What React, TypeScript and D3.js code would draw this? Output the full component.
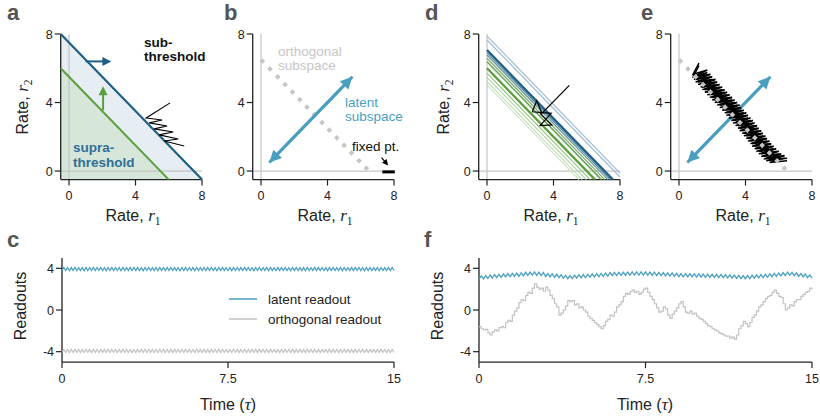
import React from "react";
import * as d3 from "d3";

// ---------- data ----------
const rateTicks = [0, 4, 8];
const readoutTicks = [-4, 0, 4];
const timeTicks = [0, 7.5, 15];
const timeTickLabels = ["0", "7.5", "15"];

// panel a
const subLine = [[-0.5, 8], [8, -0.5]];
const supraLine = [[-0.5, 6], [6, -0.5]];
const subArrow = [[1.0, 6.4], [2.55, 6.4]];
const supraArrow = [[2.05, 3.55], [2.05, 4.95]];
const aTraj = [[6.08, 3.98], [4.64, 3.1], [5.6, 2.98], [4.82, 2.81], [5.9, 2.63], [5.12, 2.46], [6.27, 2.28], [5.42, 2.11], [6.57, 1.87], [5.72, 1.75], [6.93, 1.46]];

// panels b / e
const orthoDots = [[0.08, 6.42], [0.54, 5.96], [1.0, 5.5], [1.45, 5.05], [1.89, 4.61], [2.33, 4.17], [2.77, 3.73], [3.21, 3.29], [3.67, 2.83], [4.11, 2.39], [4.56, 1.94], [5.0, 1.5], [5.44, 1.06], [5.9, 0.6], [6.34, 0.16]];
const latentAxis = [[0.5, 0.5], [5.5, 5.5]];
const fixedPoint = [[7.3, -0.05], [8.05, -0.05]];
const fixedPointArrow = [[7.25, 0.78], [7.65, 0.33]];

// panel d
const dIntercepts = [7.88, 7.65, 5.03, 5.22, 5.47, 5.71, 6.91, 6.77, 6.58, 6.38, 7.07, 6.0];
const dTraj = [[4.95, 5.0], [3.3, 3.37], [2.99, 4.11], [2.73, 3.46], [3.86, 3.37], [3.19, 2.65], [3.9, 2.69], [3.19, 3.37]];

// panel e
const eTraj = [
  [1.2, 6.3], [0.85, 5.65], [1.7, 5.9], [0.9, 5.5], [1.9, 5.65], [1.0, 5.35], [2.0, 5.5], [1.15, 5.2], [2.2, 5.35], [1.3, 5.05],
  [2.3, 5.2], [1.4, 4.9], [2.45, 5.05], [1.55, 4.75], [2.6, 4.9], [1.7, 4.6], [2.75, 4.75], [1.85, 4.45], [2.9, 4.6], [2.0, 4.3],
  [3.05, 4.45], [2.15, 4.15], [3.2, 4.3], [2.3, 4.0], [3.35, 4.15], [2.45, 3.85], [3.5, 4.0], [2.6, 3.7], [3.65, 3.85], [2.75, 3.55],
  [3.75, 3.7], [2.85, 3.4], [3.9, 3.55], [3.0, 3.25], [4.05, 3.4], [3.15, 3.1], [4.15, 3.25], [3.25, 2.95], [4.3, 3.1], [3.4, 2.8],
  [4.45, 2.95], [3.55, 2.65], [4.55, 2.8], [3.65, 2.5], [4.7, 2.65], [3.8, 2.35], [4.8, 2.5], [3.9, 2.2], [4.95, 2.35], [4.05, 2.05],
  [5.05, 2.2], [4.15, 1.9], [5.2, 2.05], [4.3, 1.75], [5.3, 1.9], [4.4, 1.6], [5.45, 1.75], [4.55, 1.45], [5.55, 1.6], [4.65, 1.3],
  [5.7, 1.45], [4.8, 1.15], [5.85, 1.3], [4.95, 1.0], [6.0, 1.15], [5.1, 0.85], [6.15, 1.0], [5.25, 0.75], [6.35, 0.9], [5.45, 0.65],
  [6.5, 0.75],
];

// panel c (sampled over 0..15)
const cLatent = [
  3.78, 4.08, 3.79, 4.07, 3.77, 4.08, 3.78, 4.09, 3.79, 4.07, 3.78, 4.08, 3.77, 4.08, 3.79, 4.07, 3.78, 4.09, 3.78, 4.08,
  3.78, 4.08, 3.79, 4.07, 3.77, 4.08, 3.78, 4.09, 3.79, 4.07, 3.78, 4.08, 3.77, 4.08, 3.79, 4.07, 3.78, 4.09, 3.78, 4.08,
  3.78, 4.08, 3.79, 4.07, 3.77, 4.08, 3.78, 4.09, 3.79, 4.07, 3.78, 4.08, 3.77, 4.08, 3.79, 4.07, 3.78, 4.09, 3.78, 4.08,
  3.78, 4.08, 3.79, 4.07, 3.77, 4.08, 3.78, 4.09, 3.79, 4.07, 3.78, 4.08, 3.77, 4.08, 3.79, 4.07, 3.78, 4.09, 3.78, 4.08,
  3.78, 4.08, 3.79, 4.07, 3.77, 4.08, 3.78, 4.09, 3.79, 4.07, 3.78, 4.08, 3.77, 4.08, 3.79, 4.07, 3.78, 4.09, 3.78, 4.08,
  3.78, 4.08, 3.79, 4.07, 3.77, 4.08, 3.78, 4.09, 3.79, 4.07, 3.78, 4.08, 3.77, 4.08, 3.79, 4.07, 3.78, 4.09, 3.78, 4.08,
  3.78, 4.08, 3.79, 4.07, 3.77, 4.08, 3.78, 4.09, 3.79, 4.07, 3.78, 4.08, 3.77, 4.08, 3.79, 4.07, 3.78, 4.09, 3.78, 4.08,
  3.78, 4.08, 3.79, 4.07, 3.77, 4.08, 3.78, 4.09, 3.79, 4.07, 3.78, 4.08, 3.77, 4.08, 3.79, 4.07, 3.78, 4.09, 3.78, 4.08,
  3.78, 4.08, 3.79, 4.07, 3.77, 4.08, 3.78, 4.09, 3.79, 4.07, 3.78, 4.08, 3.77, 4.08, 3.79, 4.07, 3.78, 4.09, 3.78, 4.08,
  3.79,
];
const cOrtho = [
  -4.08, -3.78, -4.07, -3.79, -4.08, -3.77, -4.09, -3.78, -4.07, -3.79, -4.08, -3.78, -4.08, -3.77, -4.07, -3.79, -4.09, -3.78, -4.08, -3.78,
  -4.08, -3.78, -4.07, -3.79, -4.08, -3.77, -4.09, -3.78, -4.07, -3.79, -4.08, -3.78, -4.08, -3.77, -4.07, -3.79, -4.09, -3.78, -4.08, -3.78,
  -4.08, -3.78, -4.07, -3.79, -4.08, -3.77, -4.09, -3.78, -4.07, -3.79, -4.08, -3.78, -4.08, -3.77, -4.07, -3.79, -4.09, -3.78, -4.08, -3.78,
  -4.08, -3.78, -4.07, -3.79, -4.08, -3.77, -4.09, -3.78, -4.07, -3.79, -4.08, -3.78, -4.08, -3.77, -4.07, -3.79, -4.09, -3.78, -4.08, -3.78,
  -4.08, -3.78, -4.07, -3.79, -4.08, -3.77, -4.09, -3.78, -4.07, -3.79, -4.08, -3.78, -4.08, -3.77, -4.07, -3.79, -4.09, -3.78, -4.08, -3.78,
  -4.08, -3.78, -4.07, -3.79, -4.08, -3.77, -4.09, -3.78, -4.07, -3.79, -4.08, -3.78, -4.08, -3.77, -4.07, -3.79, -4.09, -3.78, -4.08, -3.78,
  -4.08, -3.78, -4.07, -3.79, -4.08, -3.77, -4.09, -3.78, -4.07, -3.79, -4.08, -3.78, -4.08, -3.77, -4.07, -3.79, -4.09, -3.78, -4.08, -3.78,
  -4.08, -3.78, -4.07, -3.79, -4.08, -3.77, -4.09, -3.78, -4.07, -3.79, -4.08, -3.78, -4.08, -3.77, -4.07, -3.79, -4.09, -3.78, -4.08, -3.78,
  -4.08, -3.78, -4.07, -3.79, -4.08, -3.77, -4.09, -3.78, -4.07, -3.79, -4.08, -3.78, -4.08, -3.77, -4.07, -3.79, -4.09, -3.78, -4.08, -3.78,
  -4.08,
];

// panel f (sampled every 0.1 over 0..15)
const fLatent = [
  2.95, 3.27, 2.99, 3.31, 3.03, 3.35, 3.07, 3.39, 3.1, 3.42, 3.13,
  3.46, 3.17, 3.49, 3.2, 3.52, 3.22, 3.54, 3.24, 3.56, 3.28,
  3.62, 3.33, 3.64, 3.34, 3.65, 3.33, 3.63, 3.3, 3.6, 3.2,
  3.49, 3.18, 3.46, 3.14, 3.43, 3.1, 3.38, 3.06, 3.32, 3.0,
  3.31, 3.02, 3.34, 3.05, 3.37, 3.08, 3.4, 3.11, 3.43, 3.15,
  3.46, 3.17, 3.49, 3.2, 3.52, 3.23, 3.55, 3.26, 3.58, 3.3,
  3.61, 3.31, 3.62, 3.32, 3.63, 3.33, 3.64, 3.34, 3.65, 3.35, 3.65, 3.35, 3.65, 3.35, 3.65,
  3.34, 3.64, 3.33, 3.63, 3.31, 3.61, 3.29, 3.59, 3.27, 3.57, 3.25, 3.55, 3.22, 3.52, 3.2,
  3.5, 3.19, 3.49, 3.18, 3.48, 3.17, 3.47, 3.16, 3.46, 3.15,
  3.45, 3.14, 3.44, 3.13, 3.43, 3.12, 3.42, 3.11, 3.41, 3.1,
  3.39, 3.08, 3.37, 3.06, 3.35, 3.04, 3.33, 3.02, 3.31, 3.0,
  3.31, 3.02, 3.34, 3.05, 3.37, 3.08, 3.4, 3.11, 3.43, 3.15,
  3.47, 3.19, 3.51, 3.23, 3.55, 3.27, 3.59, 3.31, 3.63, 3.35,
  3.62, 3.29, 3.56, 3.23, 3.5, 3.17, 3.44, 3.11, 3.38, 3.05,
];
const fOrtho = [
  -1.6, -1.8, -1.9, -1.85, -2.2, -2.4, -2.1, -1.9, -2.0, -1.7,
  -1.6, -1.7, -1.2, -1.0, -1.1, -0.5, -0.1, 0.2, 0.7, 1.0,
  0.9, 1.4, 1.7, 1.6, 2.1, 2.5, 2.2, 2.0, 2.1, 1.8,
  2.2, 1.9, 1.4, 1.1, 0.6, 0.3, -0.5, -0.3, 0.0, 0.4,
  0.9, 0.8, 0.9, 0.5, 0.6, 0.2, 0.3, 0.0, -0.2, -0.6,
  -0.8, -1.0, -1.2, -1.4, -1.6, -1.8, -1.5, -1.1, -0.9, -0.5,
  -0.6, -0.2, 0.3, 0.5, 0.8, 1.3, 1.6, 1.5, 1.8, 1.9,
  1.7, 1.8, 1.5, 1.7, 2.0, 2.1, 1.7, 1.3, 1.0, 0.6,
  0.2, -0.2, -0.1, 0.3, 0.1, -0.5, -0.8, -0.4, -0.1, 0.2,
  0.6, 0.8, 0.3, -0.2, -0.3, -0.1, -0.4, -0.3, -0.6, -0.8,
  -0.9, -1.1, -1.3, -1.5, -1.6, -1.8, -1.9, -2.0, -2.2, -2.3,
  -2.4, -2.5, -2.5, -2.7, -2.6, -2.8, -2.4, -1.8, -1.5, -1.1,
  -1.3, -1.6, -1.2, -0.7, -0.5, -0.1, 0.3, 0.5, 0.8, 1.1,
  1.3, 1.4, 1.7, 1.9, 1.6, 1.3, 1.2, 0.6, 0.0, 0.2,
  0.5, 0.4, 0.8, 1.0, 1.0, 1.3, 1.5, 1.7, 1.8, 2.1,
  2.0,
];

// ---------- styles ----------
const FONT = "'Liberation Sans', Arial, Helvetica, sans-serif";
const MATH = "'Liberation Serif', 'DejaVu Serif', serif";
const INK = "#222";
const DARKBLUE = "#1f5f85";
const GREEN = "#5a9e3e";
const LATENT = "#4a9fc0";
const GREYLINE = "#c4c4c4";
const DOTS = "#c6c6c6";
const TICK_FS = 12.5;
const LABEL_FS = 16;
const NOTE_FS = 13.5;
const dColors = ["#9fbbd0", "#9fbbd0", "#cbe3c1", "#bddcb2", "#add2a0", "#93c384", "#4f86a6", "#6f9a8f", "#7fa980", "#6aa858", DARKBLUE, GREEN];
const dWidths = [1.2, 1.2, 1.1, 1.1, 1.1, 1.1, 1.3, 1.3, 1.3, 1.6, 2.3, 2.3];

type Pt = number[];
type Scale = d3.ScaleLinear<number, number>;

const rateY = d3.scaleLinear().domain([-0.5, 8]).range([179.6, 34]);
const readY = d3.scaleLinear().domain([-5, 5]).range([362.1, 257.9]);
const rateX = (x0: number) => d3.scaleLinear().domain([-0.5, 8]).range([x0 - 8.3, x0 + 133]);

function head(x: Scale, y: Scale, from: Pt, to: Pt, len: number, half: number) {
  const x1 = x(from[0]), y1 = y(from[1]), x2 = x(to[0]), y2 = y(to[1]);
  const a = Math.atan2(y2 - y1, x2 - x1);
  const bx = x2 - len * Math.cos(a), by = y2 - len * Math.sin(a);
  const px = -Math.sin(a) * half, py = Math.cos(a) * half;
  return `${x2},${y2} ${bx + px},${by + py} ${bx - px},${by - py}`;
}

function shaft(x: Scale, y: Scale, from: Pt, to: Pt, cut: number) {
  const x1 = x(from[0]), y1 = y(from[1]), x2 = x(to[0]), y2 = y(to[1]);
  const a = Math.atan2(y2 - y1, x2 - x1);
  return `M${x1},${y1}L${x2 - cut * Math.cos(a)},${y2 - cut * Math.sin(a)}`;
}

function Axes({ x, y, xTicks, xLabels, yTicks, ref0 }: { x: Scale; y: Scale; xTicks: number[]; xLabels?: string[]; yTicks: number[]; ref0?: boolean }) {
  const [x0, x1] = x.range();
  const [y0, y1] = y.range();
  return (
    <g>
      {ref0 && (
        <g stroke={GREYLINE} strokeWidth={1.2}>
          <line x1={x(0)} x2={x(0)} y1={y0} y2={y1} />
          <line x1={x0} x2={x1} y1={y(0)} y2={y(0)} />
        </g>
      )}
      <line x1={x0} x2={x0} y1={y0} y2={y1} stroke={INK} strokeWidth={1.3} />
      <line x1={x0} x2={x1} y1={y0} y2={y0} stroke={INK} strokeWidth={1.3} />
      {yTicks.map((t) => (
        <g key={"y" + t}>
          <line x1={x0 - 6} x2={x0} y1={y(t)} y2={y(t)} stroke={INK} strokeWidth={1.2} />
          <text x={x0 - 8} y={y(t) + 4.5} textAnchor="end" fontSize={TICK_FS} fill={INK}>{t}</text>
        </g>
      ))}
      {xTicks.map((t, i) => (
        <g key={"x" + t}>
          <line x1={x(t)} x2={x(t)} y1={y0} y2={y0 + 6} stroke={INK} strokeWidth={1.2} />
          <text x={x(t)} y={y0 + 20.5} textAnchor="middle" fontSize={TICK_FS} fill={INK}>{xLabels ? xLabels[i] : t}</text>
        </g>
      ))}
    </g>
  );
}

function RateLabel({ x, y, sub, rotate }: { x: number; y: number; sub: string; rotate?: boolean }) {
  return (
    <text x={x} y={y} textAnchor="middle" fontSize={LABEL_FS} fill={INK} transform={rotate ? `rotate(-90 ${x} ${y})` : undefined}>
      Rate,{" "}
      <tspan fontFamily={MATH} fontStyle="italic" fontSize={17}>r</tspan>
      <tspan fontFamily={MATH} fontSize={11.5} dy={3.5}>{sub}</tspan>
    </text>
  );
}

function PanelLabel({ x, y, t }: { x: number; y: number; t: string }) {
  return <text x={x} y={y} fontSize={22} fontWeight="bold" fill="#555">{t}</text>;
}

function Diamonds({ x, y }: { x: Scale; y: Scale }) {
  const sym = d3.symbol(d3.symbolSquare, 16)();
  return (
    <g fill={DOTS}>
      {orthoDots.map((d, i) => (
        <path key={i} d={sym || ""} transform={`translate(${x(d[0])},${y(d[1])}) rotate(45)`} />
      ))}
    </g>
  );
}

function LatentArrow({ x, y }: { x: Scale; y: Scale }) {
  const [p, q] = latentAxis;
  return (
    <g>
      <path d={shaft(x, y, p, q, 8)} stroke={LATENT} strokeWidth={3} fill="none" />
      <path d={shaft(x, y, q, p, 8)} stroke={LATENT} strokeWidth={3} fill="none" />
      <polygon points={head(x, y, p, q, 12, 6)} fill={LATENT} />
      <polygon points={head(x, y, q, p, 12, 6)} fill={LATENT} />
    </g>
  );
}

function TimeLabel({ x }: { x: number }) {
  return (
    <text x={x} y={410} fontSize={LABEL_FS} fill={INK} textAnchor="middle">
      Time (<tspan fontFamily={MATH} fontStyle="italic" fontSize={17}>τ</tspan>)
    </text>
  );
}

export default function App() {
  const xa = rateX(69), xb = rateX(261), xd = rateX(487), xe = rateX(679);
  const xc = d3.scaleLinear().domain([0, 15]).range([62, 394]);
  const xf = d3.scaleLinear().domain([0, 15]).range([479, 812]);

  const la = d3.line<Pt>().x((d) => xa(d[0])).y((d) => rateY(d[1]));
  const lb = d3.line<Pt>().x((d) => xb(d[0])).y((d) => rateY(d[1]));
  const ld = d3.line<Pt>().x((d) => xd(d[0])).y((d) => rateY(d[1]));
  const le = d3.line<Pt>().x((d) => xe(d[0])).y((d) => rateY(d[1]));

  const series = (xs: Scale, vals: number[], curve?: d3.CurveFactory) =>
    d3.line<number>()
      .x((_, i) => xs((i * 15) / (vals.length - 1)))
      .y((v) => readY(v))
      .curve(curve || d3.curveLinear)(vals) || "";

  const fillPoly = (l: number[][]) => la([[-0.5, -0.5], l[0], l[1]]) + "Z";

  return (
    <div style={{ position: "absolute", left: 0, top: 0 }}>
      <svg width={820} height={418} fontFamily={FONT} style={{ display: "block", background: "#fff" }}>
        {/* ---------- a ---------- */}
        <PanelLabel x={7} y={20} t="a" />
        <path d={fillPoly(subLine)} fill="#e6edf3" />
        <path d={fillPoly(supraLine)} fill="#d6e6d9" />
        <Axes x={xa} y={rateY} xTicks={rateTicks} yTicks={rateTicks} ref0 />
        <path d={la(supraLine) || ""} stroke={GREEN} strokeWidth={2} fill="none" />
        <path d={la(subLine) || ""} stroke={DARKBLUE} strokeWidth={2.2} fill="none" />
        <path d={shaft(xa, rateY, subArrow[0], subArrow[1], 6)} stroke={DARKBLUE} strokeWidth={2} />
        <polygon points={head(xa, rateY, subArrow[0], subArrow[1], 9, 4.5)} fill={DARKBLUE} />
        <path d={shaft(xa, rateY, supraArrow[0], supraArrow[1], 6)} stroke={GREEN} strokeWidth={2} />
        <polygon points={head(xa, rateY, supraArrow[0], supraArrow[1], 9, 4.5)} fill={GREEN} />
        <path d={la(aTraj) || ""} stroke="#000" strokeWidth={1.1} fill="none" strokeLinejoin="miter" />
        <text x={144} y={47} fontSize={NOTE_FS} fontWeight="bold" fill="#111">sub-</text>
        <text x={144} y={61} fontSize={NOTE_FS} fontWeight="bold" fill="#111">threshold</text>
        <text x={73} y={152} fontSize={NOTE_FS} fontWeight="bold" fill="#2f6f96">supra-</text>
        <text x={73} y={167} fontSize={NOTE_FS} fontWeight="bold" fill="#2f6f96">threshold</text>
        <RateLabel x={28} y={107} sub="2" rotate />
        <RateLabel x={133} y={221} sub="1" />

        {/* ---------- b ---------- */}
        <PanelLabel x={224} y={20} t="b" />
        <Axes x={xb} y={rateY} xTicks={rateTicks} yTicks={rateTicks} ref0 />
        <Diamonds x={xb} y={rateY} />
        <LatentArrow x={xb} y={rateY} />
        <path d={lb(fixedPoint) || ""} stroke="#000" strokeWidth={3} />
        <path d={shaft(xb, rateY, fixedPointArrow[0], fixedPointArrow[1], 3)} stroke="#000" strokeWidth={1.2} />
        <polygon points={head(xb, rateY, fixedPointArrow[0], fixedPointArrow[1], 6, 3)} fill="#000" />
        <text x={278} y={56} fontSize={NOTE_FS} fill={DOTS}>orthogonal</text>
        <text x={278} y={70} fontSize={NOTE_FS} fill={DOTS}>subspace</text>
        <text x={345} y={107} fontSize={NOTE_FS} fill={LATENT}>latent</text>
        <text x={345} y={121} fontSize={NOTE_FS} fill={LATENT}>subspace</text>
        <text x={352} y={151} fontSize={NOTE_FS} fill="#111">fixed pt.</text>
        <RateLabel x={325} y={221} sub="1" />

        {/* ---------- d ---------- */}
        <PanelLabel x={425} y={20} t="d" />
        <Axes x={xd} y={rateY} xTicks={rateTicks} yTicks={rateTicks} ref0 />
        {dIntercepts.map((c, i) => {
          const xEnd = Math.min(8, c + 0.5);
          return (
            <path key={i} d={ld([[0, c], [xEnd, c - xEnd]]) || ""} stroke={dColors[i]} strokeWidth={dWidths[i]} fill="none" />
          );
        })}
        <path d={ld(dTraj) || ""} stroke="#000" strokeWidth={1.2} fill="none" />
        <RateLabel x={449} y={107} sub="2" rotate />
        <RateLabel x={551} y={221} sub="1" />

        {/* ---------- e ---------- */}
        <PanelLabel x={641} y={20} t="e" />
        <Axes x={xe} y={rateY} xTicks={rateTicks} yTicks={rateTicks} ref0 />
        <LatentArrow x={xe} y={rateY} />
        <path d={le(eTraj) || ""} stroke="#000" strokeWidth={1.6} fill="none" />
        <path d={le(eTraj.map((p) => [p[0], p[1] - 0.15])) || ""} stroke="#000" strokeWidth={1.4} fill="none" />
        <Diamonds x={xe} y={rateY} />
        <RateLabel x={743} y={221} sub="1" />

        {/* ---------- c ---------- */}
        <PanelLabel x={7} y={247} t="c" />
        <Axes x={xc} y={readY} xTicks={timeTicks} xLabels={timeTickLabels} yTicks={readoutTicks} />
        <path d={series(xc, cOrtho)} stroke="#c2c2c2" strokeWidth={1.2} fill="none" />
        <path d={series(xc, cLatent)} stroke={LATENT} strokeWidth={1.2} fill="none" />
        <line x1={229} x2={257} y1={299} y2={299} stroke={LATENT} strokeWidth={1.5} />
        <text x={268} y={303.5} fontSize={NOTE_FS} fill={INK}>latent readout</text>
        <line x1={229} x2={257} y1={319} y2={319} stroke="#c2c2c2" strokeWidth={1.5} />
        <text x={268} y={323.5} fontSize={NOTE_FS} fill={INK}>orthogonal readout</text>
        <text x={26} y={306} fontSize={LABEL_FS} fill={INK} textAnchor="middle" transform="rotate(-90 26 306)">Readouts</text>
        <TimeLabel x={228} />

        {/* ---------- f ---------- */}
        <PanelLabel x={424} y={247} t="f" />
        <Axes x={xf} y={readY} xTicks={timeTicks} xLabels={timeTickLabels} yTicks={readoutTicks} />
        <path d={series(xf, fOrtho, d3.curveStepAfter)} stroke="#c2c2c2" strokeWidth={1.2} fill="none" />
        <path d={series(xf, fLatent)} stroke={LATENT} strokeWidth={1.3} fill="none" />
        <text x={443} y={306} fontSize={LABEL_FS} fill={INK} textAnchor="middle" transform="rotate(-90 443 306)">Readouts</text>
        <TimeLabel x={645} />
      </svg>
    </div>
  );
}
